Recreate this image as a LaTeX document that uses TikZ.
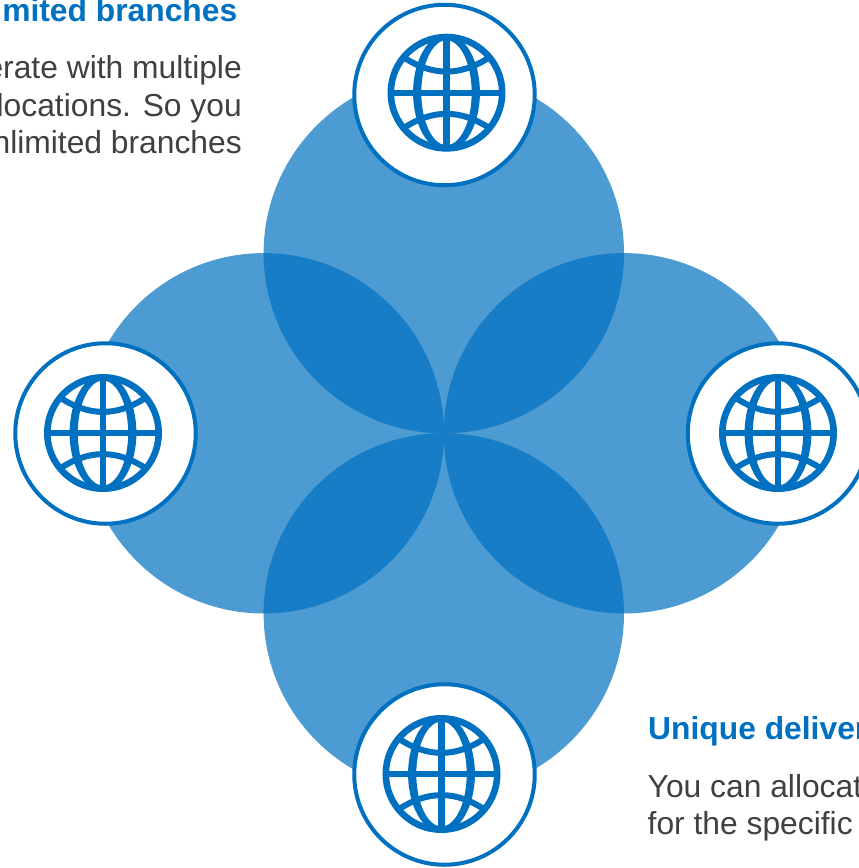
\documentclass[tikz,border=0pt]{standalone}
\usepackage{fontspec}
\setmainfont{Liberation Sans}
\definecolor{brand}{HTML}{0070C0}
\definecolor{bodytext}{HTML}{404040}
\tikzset{
  x=1pt,y=-1pt,
  petal/.style={fill=brand,fill opacity=.7,draw=none},
  badge/.style={circle,draw=brand,line width=4pt,fill=white,minimum size=180.5pt,inner sep=0pt},
  globeline/.style={draw=brand,line width=6.6pt},
  globethin/.style={draw=brand,line width=6pt},
  head/.style={inner sep=0pt,text=brand,font=\fontsize{31.8}{38}\selectfont\bfseries},
  para/.style={inner sep=0pt,text=bodytext,font=\fontsize{31.8}{38}\selectfont},
  globe/.pic={
    \draw[globeline] (0,0) circle[radius=55.7];
    \fill[brand,even odd rule] (0,0) ellipse[x radius=33.4,y radius=58.5] (0,0) ellipse[x radius=25.2,y radius=52.5];
    \draw[globeline] (0,-55.7) -- (0,55.7);
    \draw[globethin] (-55.7,0) -- (55.7,0);
    \draw[globethin] (-43,-35.5) .. controls (-14,-16.3) and (14,-16.3) .. (43,-35.5);
    \draw[globethin] (-43,35.5) .. controls (-14,16.3) and (14,16.3) .. (43,35.5);
  }
}
\begin{document}
\begin{tikzpicture}
\useasboundingbox (0,0) rectangle (859,868);
\begin{scope}
\clip (0,0) rectangle (859,868);
\fill[petal] (443.8,253.2) circle[radius=180.2];
\fill[petal] (263.8,433.3) circle[radius=180.2];
\fill[petal] (623.9,433.3) circle[radius=180.2];
\fill[petal] (443.8,613.4) circle[radius=180.2];
\node[badge] (top) at (444.5,95) {};
\node[badge] (left) at (105.5,433.5) {};
\node[badge] (right) at (778,433.5) {};
\node[badge] (bottom) at (444.5,774.5) {};
\pic at (446.5,92.7) {globe};
\pic at (103,433) {globe};
\pic at (778,433) {globe};
\pic at (441.5,774) {globe};
\node[head,anchor=base east] (h1) at (237.5,21) {mited branches};
\node[para,anchor=base east] (p1) at (242,78) {erate with multiple};
\node[para,anchor=base east] (p2) at (242,116) {locations. So you};
\node[para,anchor=base east] (p3) at (242,153.5) {nlimited branches};
\node[head,anchor=base west] (h2) at (648,739) {Unique deliver};
\node[para,anchor=base west] (p4) at (647.5,797) {You can allocat};
\node[para,anchor=base west] (p5) at (647.5,834.5) {for the specific};
\end{scope}
\end{tikzpicture}
\end{document}
